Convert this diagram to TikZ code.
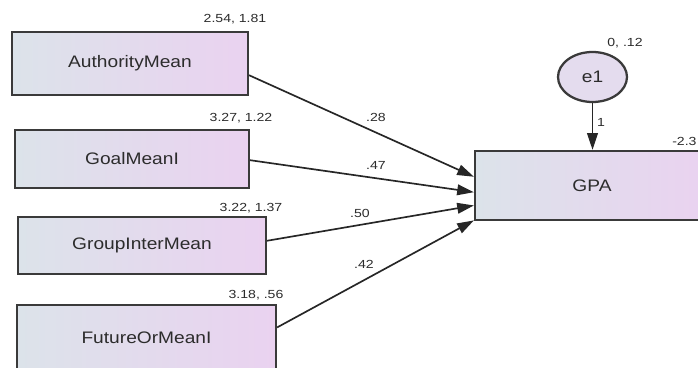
\documentclass[tikz,border=0pt]{standalone}
\usepackage{fontspec}
\setmainfont{Liberation Sans}
\newfontfamily\boxfont[FakeStretch=1.15]{Liberation Sans}
\newfontfamily\estfont[FakeStretch=1.2]{Liberation Sans}
\usetikzlibrary{arrows.meta,calc,shapes.geometric}

\definecolor{edgegray}{HTML}{3A3A3A}
\definecolor{txtgray}{HTML}{2C2C2C}
\definecolor{boxleft}{HTML}{DCE3EA}
\definecolor{boxright}{HTML}{EAD2F0}
\definecolor{errfill}{HTML}{E4DCEE}

\begin{document}
\begin{tikzpicture}[x=0.75pt,y=-0.75pt,
  observed/.style={draw=edgegray, line width=1.7pt, left color=boxleft, right color=boxright,
    inner sep=0pt, text=txtgray, font=\boxfont\fontsize{12.5}{14}\selectfont},
  latent/.style={ellipse, draw=edgegray, line width=1.7pt, fill=errfill, inner sep=0pt,
    text=txtgray, font=\boxfont\fontsize{12.5}{14}\selectfont},
  est/.style={text=txtgray, inner sep=0pt, font=\estfont\fontsize{8.8}{10}\selectfont},
  path/.style={draw=black!85, line width=1.25pt, -{Triangle[length=12.5pt,width=8pt]}}]

\useasboundingbox (0,0) rectangle (698,367);
\clip (0,0) rectangle (698,367);
\fill[white] (0,0) rectangle (698,367);

% observed predictors
\node[observed, minimum width=177pt, minimum height=47.25pt] (am) at (130,63.5) {AuthorityMean};
\node[observed, minimum width=175.5pt, minimum height=43.5pt] (gm) at (132,159) {GoalMeanI};
\node[observed, minimum width=186pt, minimum height=42.75pt] (gi) at (142,245.5) {GroupInterMean};
\node[observed, minimum width=194.25pt, minimum height=48.75pt] (fo) at (146.5,337.5) {FutureOrMeanI};

% outcome and its error term
\node[observed, minimum width=175.5pt, minimum height=51.75pt] (gpa) at (592,185.5) {GPA};
\node[latent, minimum width=51.75pt, minimum height=37.5pt] (e1) at (592.5,77) {e1};

% means and variances
\node[est] (amv) at (235,19) {2.54, 1.81};
\node[est] (gmv) at (241,118) {3.27, 1.22};
\node[est] (giv) at (251,208) {3.22, 1.37};
\node[est] (fov) at (256,295) {3.18, .56};
\node[est] (e1v) at (625,43) {0, .12};
\node[est, anchor=west] (gpav) at (672,141) {-2.3};

% connection points on the boxes
\coordinate (amo) at ($(am.north east)!0.68!(am.south east)$);
\coordinate (gmo) at ($(gm.north east)!0.52!(gm.south east)$);
\coordinate (gio) at ($(gi.north east)!0.42!(gi.south east)$);
\coordinate (foo) at ($(fo.north east)!0.35!(fo.south east)$);
\coordinate (in1) at ($(gpa.north west)!0.377!(gpa.south west)$);
\coordinate (in2) at ($(gpa.north west)!0.594!(gpa.south west)$);
\coordinate (in3) at ($(gpa.north west)!0.78!(gpa.south west)$);
\coordinate (in4) at ($(gpa.north west)!0.99!(gpa.south west)$);

% regression paths
\draw[path] (amo) -- (in1);
\draw[path] (gmo) -- (in2);
\draw[path] (gio) -- (in3);
\draw[path] (foo) -- (in4);
\draw[path] (e1.south) -- (e1.south |- gpa.north);

% path weights
\node[est] (w1) at (376,117) {.28};
\node[est] (w2) at (376,165) {.47};
\node[est] (w3) at (360,213) {.50};
\node[est] (w4) at (364,264) {.42};
\node[est] (w5) at (601,122) {1};
\end{tikzpicture}
\end{document}
